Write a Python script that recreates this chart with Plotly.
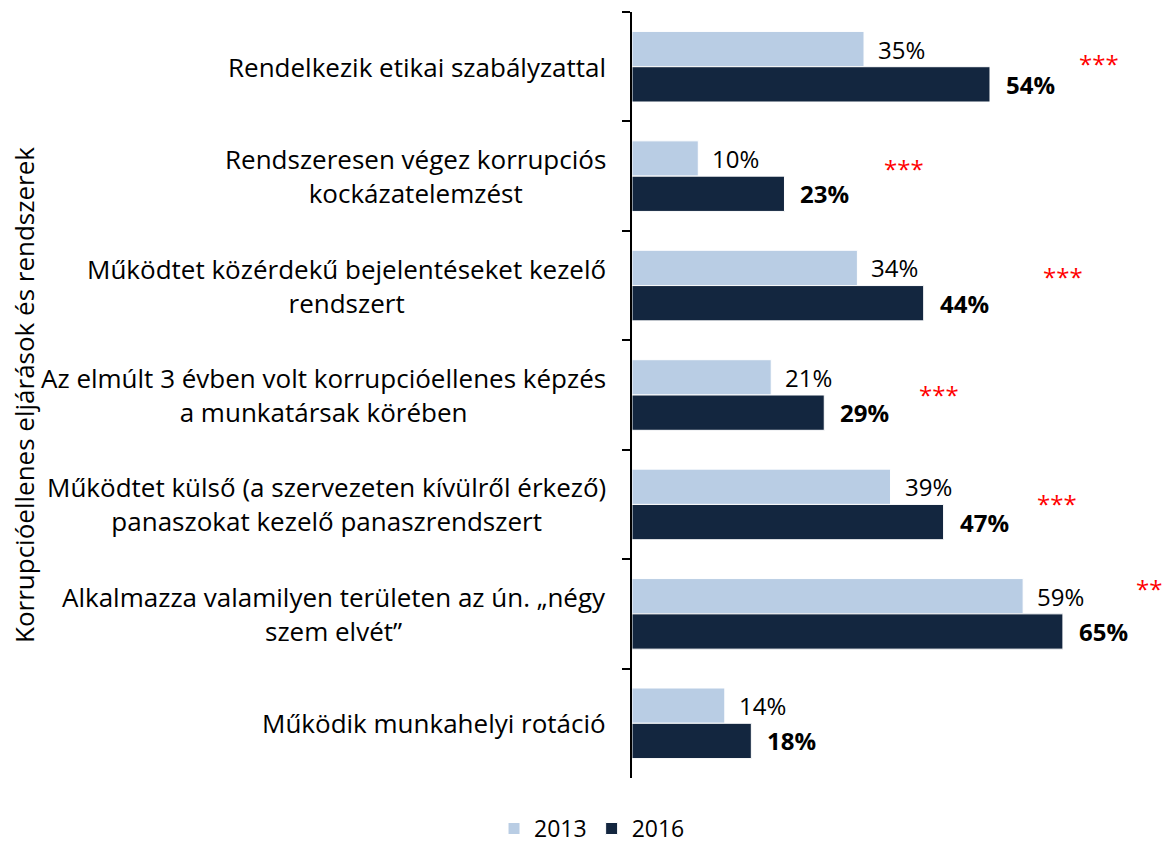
import plotly.graph_objects as go

categories = [
    "Rendelkezik etikai szabályzattal",
    "Rendszeresen végez korrupciós<br>kockázatelemzést",
    "Működtet közérdekű bejelentéseket kezelő<br>rendszert",
    "Az elmúlt 3 évben volt korrupcióellenes képzés<br>a munkatársak körében",
    "Működtet külső (a szervezeten kívülről érkező)<br>panaszokat kezelő panaszrendszert",
    "Alkalmazza valamilyen területen az ún. „négy<br>szem elvét”",
    "Működik munkahelyi rotáció",
]
v2013 = [35, 10, 34, 21, 39, 59, 14]
v2016 = [54, 23, 44, 29, 47, 65, 18]
significance = ["***", "***", "***", "***", "***", "**", ""]
series_names = ["2013", "2016"]
axis_title = "Korrupcióellenes eljárások és rendszerek"

# styling
C13 = "#B9CDE4"
C16 = "#13263F"
FONT = "Open Sans"
star_dx = [87, 98, 117, 93, 91, 71]      # px right of 2016 bar end
star_dy = [3, 7.5, 9, 1, 1, 25]          # px up from category centre

fig = go.Figure()
fig.add_trace(go.Bar(y=categories, x=v2013, orientation="h", name=series_names[0],
                     marker=dict(color=C13, line=dict(color="white", width=1))))
fig.add_trace(go.Bar(y=categories, x=v2016, orientation="h", name=series_names[1],
                     marker=dict(color=C16, line=dict(color="white", width=1))))

ann = []
for i, c in enumerate(categories):
    ann.append(dict(x=0, xref="paper", y=c, yref="y", xanchor="right", xshift=-24,
                    text=c, align="center", showarrow=False,
                    font=dict(family=FONT, size=26, color="black")))
    ann.append(dict(x=v2013[i], y=c, xanchor="left", xshift=12, yshift=17.6,
                    text=f"{v2013[i]}%", showarrow=False,
                    font=dict(family=FONT, size=24, color="black")))
    ann.append(dict(x=v2016[i], y=c, xanchor="left", xshift=14, yshift=-17.6,
                    text=f"<b>{v2016[i]}%</b>", showarrow=False,
                    font=dict(family=FONT, size=24, color="black")))
    if significance[i]:
        ann.append(dict(x=v2016[i], y=c, xanchor="left", xshift=star_dx[i], yshift=star_dy[i],
                        text=significance[i], showarrow=False,
                        font=dict(family=FONT, size=24, color="#FF0000")))

ann.append(dict(x=0, xref="paper", xshift=-(632 - 24), y=0.5, yref="paper",
                xanchor="center", yanchor="middle", textangle=-90,
                text=axis_title, showarrow=False,
                font=dict(family=FONT, size=26, color="black")))

fig.update_layout(
    width=1165, height=844,
    margin=dict(l=632, r=0, t=12, b=66, autoexpand=False),
    paper_bgcolor="white", plot_bgcolor="white",
    barmode="group", bargap=0.355, bargroupgap=0,
    showlegend=True,
    legend=dict(orientation="h", xref="paper", yref="paper",
                x=-0.075, xanchor="center", y=-0.066, yanchor="middle",
                font=dict(family=FONT, size=23, color="black")),
    annotations=ann,
    font=dict(family=FONT),
)
fig.update_xaxes(range=[0, 80.4], showgrid=False, zeroline=False, showline=False,
                 showticklabels=False, ticks="")
fig.update_yaxes(type="category", categoryorder="array", categoryarray=categories,
                 range=[6.5, -0.5], showgrid=False, zeroline=False,
                 showline=True, linecolor="black", linewidth=1.5,
                 ticks="outside", ticklen=8, tickcolor="black", tickwidth=1.5,
                 tickson="boundaries", showticklabels=False, automargin=False)

fig.write_html("out.html", config={"displayModeBar": False},
               post_script="document.body.style.margin='0';document.body.style.overflow='hidden';")
